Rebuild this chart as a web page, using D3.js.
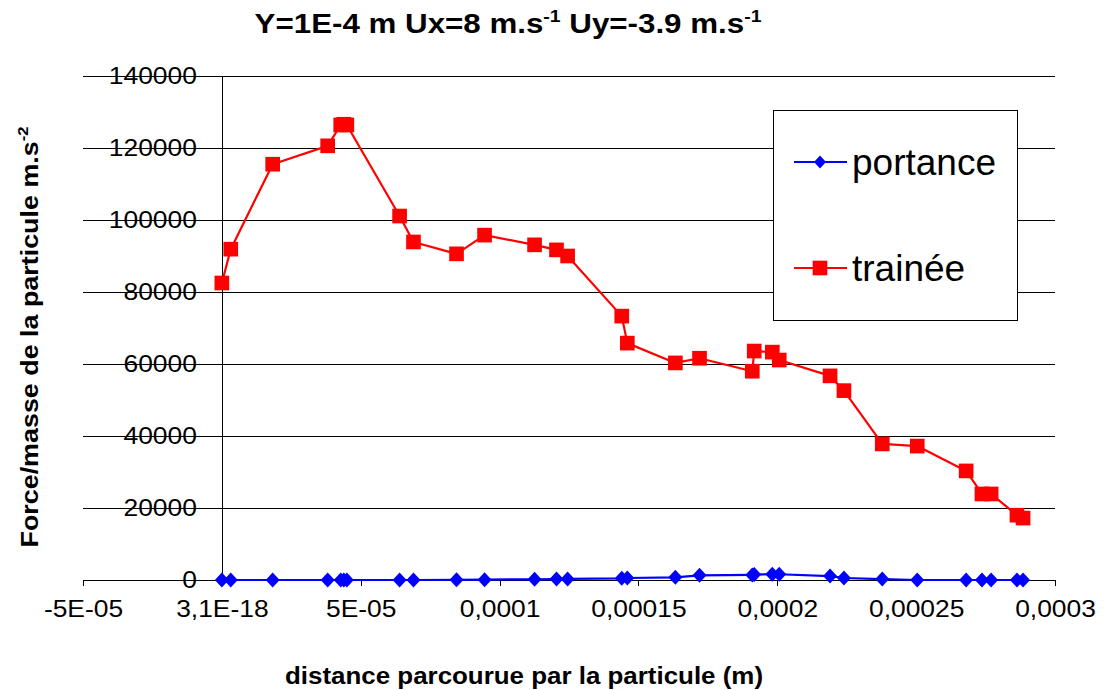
<!DOCTYPE html>
<html>
<head>
<meta charset="utf-8">
<script src="https://cdn.jsdelivr.net/npm/d3@7"></script>
<style>
  html, body { margin: 0; padding: 0; background: #fff; }
  svg { display: block; font-family: Arial, "Liberation Sans", sans-serif; }
</style>
</head>
<body>
<svg id="chart" width="1109" height="690"></svg>
<script>
// ---- data ----
const distances = [0, 3.2e-6, 1.83e-5, 3.81e-5, 4.28e-5, 4.39e-5, 4.5e-5, 6.4e-5, 6.9e-5, 8.45e-5,
  9.46e-5, 1.126e-4, 1.205e-4, 1.245e-4, 1.44e-4, 1.46e-4, 1.633e-4, 1.72e-4, 1.91e-4, 1.917e-4,
  1.982e-4, 2.007e-4, 2.19e-4, 2.24e-4, 2.378e-4, 2.504e-4, 2.68e-4, 2.737e-4, 2.77e-4, 2.863e-4, 2.885e-4];
const portance = [0, 0, 0, 0, 0, 0, 0, 0, 0, 50,
  100, 200, 250, 300, 470, 550, 750, 1300, 1400, 1500,
  1600, 1600, 1100, 550, 250, 0, 0, 0, 0, 0, 0];
const trainee = [82500, 91900, 115500, 120600, 126400, 126600, 126400, 101100, 93900, 90600,
  95800, 93100, 91700, 90000, 73300, 65800, 60300, 61600, 58000, 63600,
  63300, 61100, 56700, 52600, 37800, 37200, 30300, 23900, 23900, 18000, 17200];
const seriesNames = ["portance", "trainée"];
const xTickValues = [-5e-5, 0, 5e-5, 1e-4, 1.5e-4, 2e-4, 2.5e-4, 3e-4];
const xTickLabels = ["-5E-05", "3,1E-18", "5E-05", "0,0001", "0,00015", "0,0002", "0,00025", "0,0003"];
const yTickValues = [0, 20000, 40000, 60000, 80000, 100000, 120000, 140000];

// ---- layout ----
const svg = d3.select("#chart");
const plotLeft = 83, plotRight = 1055, plotTop = 76, plotBottom = 580;
const x = d3.scaleLinear().domain([-5e-5, 3e-4]).range([plotLeft, plotRight]);
const y = d3.scaleLinear().domain([0, 140000]).range([plotBottom, plotTop]);
const SX = 1.1; // horizontal stretch of the reference's glyphs

// gridlines
svg.append("g").selectAll("line").data(yTickValues.slice(1)).join("line")
  .attr("x1", plotLeft).attr("x2", plotRight)
  .attr("y1", d => y(d)).attr("y2", d => y(d))
  .attr("stroke", "#000").attr("stroke-width", 1).attr("shape-rendering", "crispEdges");

// x axis
const xAxis = svg.append("g").attr("transform", `translate(0,${y(0)})`)
  .call(d3.axisBottom(x).tickValues(xTickValues)
    .tickFormat((d, i) => xTickLabels[i]).tickSize(6).tickSizeOuter(6).tickPadding(14));
xAxis.selectAll("path, line").attr("stroke", "#000").attr("shape-rendering", "crispEdges");
xAxis.selectAll("text").attr("font-size", 24).attr("fill", "#000")
  .attr("font-family", "Arial, 'Liberation Sans', sans-serif")
  .each(function () {
    const t = d3.select(this);
    const yy = +t.attr("y");
    t.attr("y", 0).attr("transform", `translate(0,${yy}) scale(${SX},1)`);
  });

// y axis (crosses at x = 0)
const yAxis = svg.append("g").attr("transform", `translate(${x(0)},0)`)
  .call(d3.axisLeft(y).tickValues(yTickValues).tickFormat(d3.format("d"))
    .tickSize(7).tickSizeOuter(0).tickPadding(18));
yAxis.selectAll("path, line").attr("stroke", "#000").attr("shape-rendering", "crispEdges");
yAxis.selectAll("text").attr("font-size", 24).attr("fill", "#000")
  .attr("font-family", "Arial, 'Liberation Sans', sans-serif")
  .each(function () {
    const t = d3.select(this);
    const xx = +t.attr("x");
    t.attr("x", 0).attr("transform", `translate(${xx},0) scale(${SX},1)`);
  });

// ---- series ----
const diamondShape = {
  draw(ctx, size) {
    const w = 7, h = 7.5;
    ctx.moveTo(0, -h); ctx.lineTo(w, 0); ctx.lineTo(0, h); ctx.lineTo(-w, 0); ctx.closePath();
  }
};
const diamond = d3.symbol().type(diamondShape);
const diamondSmall = d3.symbol().type({
  draw(ctx) { const w = 6, h = 6.5; ctx.moveTo(0, -h); ctx.lineTo(w, 0); ctx.lineTo(0, h); ctx.lineTo(-w, 0); ctx.closePath(); }
});
const square = d3.symbol().type(d3.symbolSquare).size(215);
const lineGen = d3.line().x(d => x(d[0])).y(d => y(d[1]));

const seriesData = [
  { name: seriesNames[0], values: distances.map((d, i) => [d, portance[i]]), color: "#0000FF", sym: diamond, legSym: diamondSmall },
  { name: seriesNames[1], values: distances.map((d, i) => [d, trainee[i]]), color: "#FF0000", sym: square, legSym: square }
];

seriesData.forEach(s => {
  const g = svg.append("g");
  g.append("path").datum(s.values).attr("d", lineGen)
    .attr("fill", "none").attr("stroke", s.color).attr("stroke-width", 2.2)
    .attr("stroke-linejoin", "round");
  g.selectAll("path.m").data(s.values).join("path").attr("class", "m")
    .attr("d", s.sym)
    .attr("transform", d => `translate(${x(d[0])},${y(d[1])})`)
    .attr("fill", s.color);
});

// ---- legend ----
const lg = svg.append("g");
lg.append("rect").attr("x", 773.5).attr("y", 110.5).attr("width", 244).attr("height", 210)
  .attr("fill", "#fff").attr("stroke", "#000").attr("stroke-width", 1);
const legendRows = [
  { s: seriesData[0], ly: 162 },
  { s: seriesData[1], ly: 268 }
];
legendRows.forEach(r => {
  lg.append("line").attr("x1", 794).attr("x2", 847).attr("y1", r.ly).attr("y2", r.ly)
    .attr("stroke", r.s.color).attr("stroke-width", 2.2);
  lg.append("path").attr("d", r.s.legSym)
    .attr("transform", `translate(820,${r.ly})`)
    .attr("fill", r.s.color);
  lg.append("text").attr("x", 852).attr("y", r.ly).attr("dy", "0.35em")
    .attr("font-size", 37).attr("fill", "#000").text(r.s.name);
});

// ---- titles ----
function supText(g, parts, size) {
  const t = g.append("text").attr("text-anchor", "middle").attr("font-weight", "bold")
    .attr("font-size", size).attr("fill", "#000");
  let pending = 0;
  parts.forEach(p => {
    if (p.sup) {
      t.append("tspan").attr("font-size", size * 0.62).attr("dy", pending - size * 0.42).text(p.sup);
      pending = size * 0.42;
    } else {
      const ts = t.append("tspan").text(p.t);
      if (pending) ts.attr("dy", pending);
      pending = 0;
    }
  });
  return t;
}

const titleG = svg.append("g").attr("transform", `translate(508,33) scale(1.16,1)`);
supText(titleG, [{ t: "Y=1E-4 m Ux=8 m.s" }, { sup: "-1" }, { t: " Uy=-3.9 m.s" }, { sup: "-1" }], 27);

const xTitleG = svg.append("g").attr("transform", `translate(524,684) scale(1.08,1)`);
supText(xTitleG, [{ t: "distance parcourue par la particule (m)" }], 24);

const yTitleG = svg.append("g").attr("transform", `translate(38,337) rotate(-90) scale(1.12,1)`);
supText(yTitleG, [{ t: "Force/masse de la particule m.s" }, { sup: "-2" }], 24);
</script>
</body>
</html>
